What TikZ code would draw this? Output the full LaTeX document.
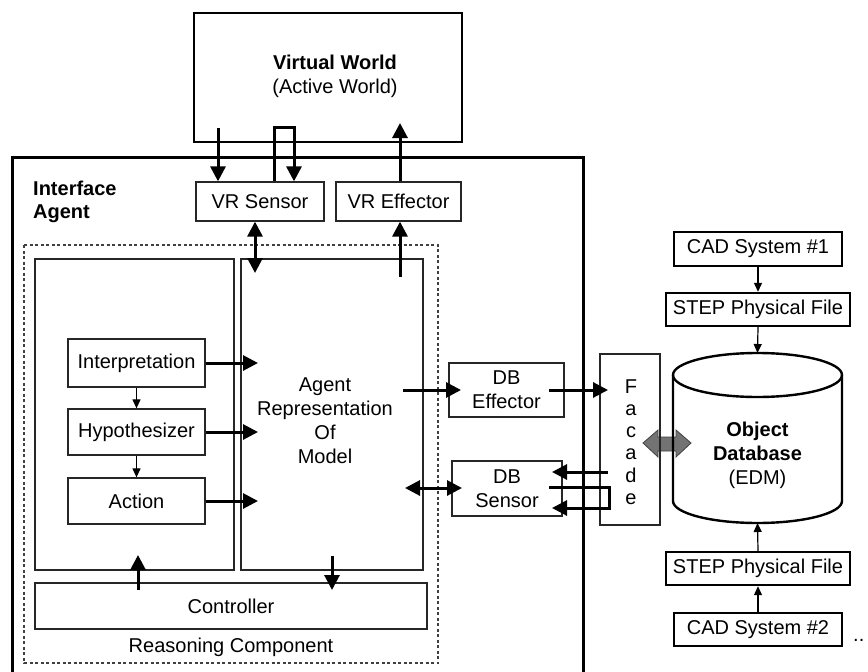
\documentclass[tikz,border=0pt]{standalone}
\usepackage{fontspec}
\setmainfont{Liberation Sans}
\usetikzlibrary{arrows.meta,calc}
\begin{document}
\begin{tikzpicture}[x=1pt,y=-1pt,
  txt/.style={font=\fontsize{20}{24}\selectfont, align=center},
  box/.style={draw=black!85, line width=1.3pt, inner sep=0pt, txt},
  thickbox/.style={draw, line width=2.4pt, inner sep=0pt, txt},
  big/.style={line width=3pt, -{Triangle[width=15pt,length=15pt]}},
  bigboth/.style={line width=3pt, {Triangle[width=15pt,length=15pt]}-{Triangle[width=15pt,length=15pt]}},
  thinarr/.style={line width=1.2pt, -{Triangle[width=8pt,length=9pt]}}
]
\useasboundingbox (0,0) rectangle (868,672);

% gray double arrow (behind boxes)
\draw[fill=black!55, draw=black!75, line width=0.8pt]
  (643,443) -- (658,430) -- (658,437) -- (676,437) -- (676,430) -- (691,443)
  -- (676,457) -- (676,451) -- (658,451) -- (658,457) -- cycle;

% Virtual world
\node[draw, line width=2.6pt, minimum width=268pt, minimum height=129pt] (vw) at (328,77.5) {};
\node[txt, inner sep=0pt] (vwtext) at (335,76.5) {\textbf{Virtual World}\\(Active World)};

% Interface agent outer frame
\draw[line width=3pt] (12,672) -- (12,157) -- (583,157) -- (583,672);
\node[txt, font=\fontsize{20}{23}\selectfont\bfseries, align=left, anchor=west, inner sep=0pt] (ia) at (33,202) {Interface\\Agent};

% VR sensor / effector
\node[box, minimum width=128pt, minimum height=39pt] (vrs) at (260,201.5) {VR Sensor};
\node[box, minimum width=125pt, minimum height=39pt] (vre) at (398.5,201.5) {VR Effector};

% Reasoning component
\draw[draw=black!75, line width=1.4pt, dash pattern=on 3pt off 2.5pt] (24,245) rectangle (438,663);
\node[txt, inner sep=0pt] (rc) at (231,647) {Reasoning Component};
\node[box, minimum width=199pt, minimum height=311pt] (lbox) at (134.5,414.5) {};
\node[box, minimum width=182pt, minimum height=311pt] (arm) at (332,414.5) {};
\node[txt, inner sep=0pt] (armtext) at (325,421) {Agent\\Representation\\Of\\Model};

\node[box, minimum width=137pt, minimum height=48pt] (interp) at (136.5,363) {Interpretation};
\node[box, minimum width=137pt, minimum height=46pt] (hyp) at (136.5,432) {Hypothesizer};
\node[box, minimum width=137pt, minimum height=46pt] (act) at (136.5,501) {Action};
\node[box, minimum width=392pt, minimum height=46pt] (ctrl) at (231,606) {Controller};

% DB effector / sensor / facade
\node[box, minimum width=115pt, minimum height=54pt] (dbe) at (506.5,390) {DB\\Effector};
\node[box, minimum width=110pt, minimum height=55pt] (dbs) at (507,488.5) {DB\\Sensor};
\node[box, minimum width=60pt, minimum height=171pt] (fac) at (630,439.5) {};
\node[txt, font=\fontsize{20}{22.2}\selectfont, inner sep=0pt] (factext) at (631,442) {F\\a\\c\\a\\d\\e};

% Object database cylinder
\draw[line width=2.4pt] (673,375) -- (673,501) arc[start angle=180, end angle=360, x radius=84.5, y radius=-22] -- (842,375);
\draw[line width=2.4pt] (757.5,375) ellipse[x radius=84.5, y radius=22];
\coordinate (cyltop) at (757.5,353);
\coordinate (cylbot) at (757.5,523);
\node[txt, inner sep=0pt] (db) at (757.5,455) {\textbf{Object}\\\textbf{Database}\\(EDM)};

% CAD / STEP
\node[thickbox, minimum width=168pt, minimum height=34pt] (cad1) at (758,249) {CAD System \#1};
\node[thickbox, minimum width=184pt, minimum height=33pt] (step1) at (758,309.5) {STEP Physical File};
\node[thickbox, minimum width=184pt, minimum height=33pt] (step2) at (758,568.5) {STEP Physical File};
\node[thickbox, minimum width=168pt, minimum height=33pt] (cad2) at (758,629.5) {CAD System \#2};
\node[txt, anchor=west, inner sep=0pt] (dots) at (853,640) {..};

% arrows: virtual world <-> VR
\coordinate (a1) at (218,128);
\draw[big] (a1) -- (a1 |- vrs.north);
\coordinate (l1) at (274,127);
\coordinate (l2) at (294,127);
\draw[big] (l1 |- vrs.north) -- (l1) -- (l2) -- (l2 |- vrs.north);
\coordinate (e1) at (400,123);
\draw[big] (e1 |- vre.north) -- (e1);

% VR <-> agent representation
\coordinate (s1) at (255,273);
\draw[bigboth] (s1 |- vrs.south) -- (s1);
\coordinate (e2) at (400,277);
\draw[big] (e2) -- (e2 |- vre.south);

% reasoning internals
\coordinate (r1) at (258,363);
\coordinate (r2) at (258,432);
\coordinate (r3) at (258,501);
\draw[big] (interp.east) -- (r1);
\draw[big] (hyp.east) -- (r2);
\draw[big] (act.east) -- (r3);
\draw[thinarr] (interp.south) -- (hyp.north);
\draw[thinarr] (hyp.south) -- (act.north);
\coordinate (c1) at (138,590);
\coordinate (c2) at (138,555);
\draw[big] (c1) -- (c2);
\coordinate (c3) at (332,556);
\coordinate (c4) at (332,590);
\draw[big] (c3) -- (c4);

% agent rep <-> DB
\coordinate (d1) at (403,390);
\coordinate (d1e) at (461,390);
\draw[big] (d1) -- (d1e);
\coordinate (d2) at (405,488);
\coordinate (d2e) at (462,488);
\draw[bigboth] (d2) -- (d2e);
\coordinate (f1) at (549,390);
\coordinate (f1e) at (608,390);
\draw[big] (f1) -- (f1e);
\coordinate (f2) at (608,472);
\coordinate (f2e) at (552,472);
\draw[big] (f2) -- (f2e);
\coordinate (g1) at (549,487);
\coordinate (g2) at (609,487);
\coordinate (g3) at (609,508);
\coordinate (g4) at (552,508);
\draw[big] (g1) -- (g2) -- (g3) -- (g4);

% CAD chain
\draw[thinarr] (cad1.south) -- (step1.north);
\draw[thinarr] (step1.south) -- (cyltop);
\draw[thinarr] (cad2.north) -- (step2.south);
\draw[thinarr] (step2.north) -- (cylbot);
\end{tikzpicture}
\end{document}
